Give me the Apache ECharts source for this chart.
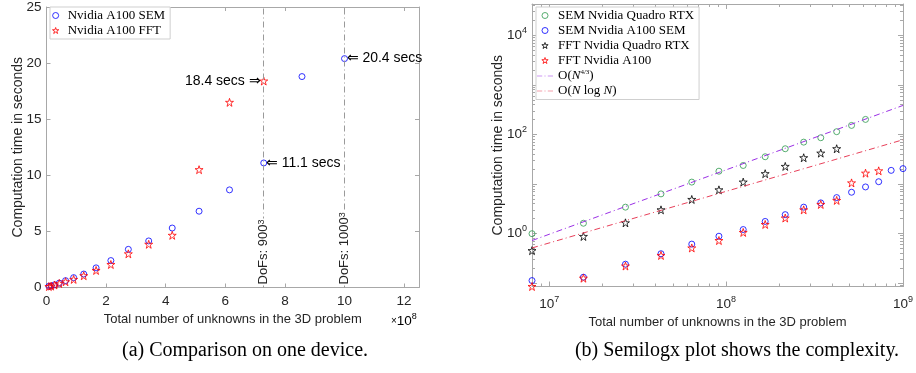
<!DOCTYPE html>
<html>
<head>
<meta charset="utf-8">
<script src="https://cdn.jsdelivr.net/npm/echarts@6/dist/echarts.min.js"></script>
<style>
  html, body { margin: 0; padding: 0; background: #fff; }
  #main { width: 916px; height: 373px; }
</style>
</head>
<body>
<div id="main"></div>
<script>
// total unknowns N = n^3, n = 200, 250, ..., 1000
var unknowns = [8e6, 1.5625e7, 2.7e7, 4.2875e7, 6.4e7, 9.1125e7, 1.25e8, 1.66375e8, 2.16e8,
  2.74625e8, 3.43e8, 4.21875e8, 5.12e8, 6.14125e8, 7.29e8, 8.57375e8, 1e9];
// computation time (s)
var semA100 = [0.112, 0.131, 0.24, 0.39, 0.61, 0.88, 1.2, 1.75, 2.4, 3.4, 4.15, 5.3, 6.8, 8.7, 11.1, 18.8, 20.4];
var fftA100 = [0.085, 0.125, 0.22, 0.36, 0.51, 0.72, 1.05, 1.52, 2.05, 3.0, 3.85, 4.65, 10.5, 16.5, 18.4];
var semQuadro = [0.99, 1.61, 3.4, 6.3, 10.9, 18.1, 23.6, 35.4, 51.4, 69.9, 85.7, 113.5, 152, 201];
var fftQuadro = [0.45, 0.87, 1.64, 3.0, 4.86, 7.6, 10.9, 16.1, 22.6, 33.8, 41.9, 51.4];
// reference slopes, end points (b)
var fitN = [8e6, 1e9];
var fitN43 = [0.72, 385];
var fitNlogN = [0.51, 78];

// ticks
var leftXTicks = [0, 2, 4, 6, 8, 10, 12];
var leftYTicks = [0, 5, 10, 15, 20, 25];
var logXMajor = [1e7, 1e8, 1e9];
var logXMinor = [9e6, 2e7, 3e7, 4e7, 5e7, 6e7, 7e7, 8e7, 9e7,
  2e8, 3e8, 4e8, 5e8, 6e8, 7e8, 8e8, 9e8];
var logYMajor = [0.1, 1, 10, 100, 1000, 10000];
var logYLabels = [1, 100, 10000];
var logYMinor = [0.09, 0.2, 0.3, 0.4, 0.5, 0.6, 0.7, 0.8, 0.9, 2, 3, 4, 5, 6, 7, 8, 9,
  20, 30, 40, 50, 60, 70, 80, 90, 200, 300, 400, 500, 600, 700, 800, 900,
  2000, 3000, 4000, 5000, 6000, 7000, 8000, 9000, 20000, 30000, 40000];

var sans = 'Liberation Sans, Arial, Helvetica, sans-serif';
var serif = 'Liberation Serif, Times New Roman, serif';
var txt = '#262626';
var boxGray = '#a8a8a8';
var star = 'path://M50,0 L61.8,35.4 L100,35.4 L69.1,57.3 L80.9,95.1 L50,72.4 L19.1,95.1 L30.9,57.3 L0,35.4 L38.2,35.4 Z';
var dashDotIcon = 'path://M0,0h7v1h-7z M10,0h1.5v1h-1.5z M14.5,0h7v1h-7z';

var blue = '#0000ff', red = '#ff0000', green = '#2f9a4f', black = '#000000';
var purple = '#9b30e6', pink = '#e8405a';

var sup = {
  b: { fontFamily: sans, fontSize: 13.5, color: txt, lineHeight: 18 },
  e: { fontFamily: sans, fontSize: 9, color: txt, lineHeight: 8, verticalAlign: 'top' },
  x: { fontFamily: sans, fontSize: 10, color: txt, lineHeight: 18 }
};

function pairs(xs, ys, scale) {
  return ys.map(function (v, i) { return [xs[i] / scale, v]; });
}
function pow10(v) {
  return '{b|10}{e|' + Math.round(Math.log10(v)) + '}';
}
function hollow(color) {
  return { color: 'rgba(0,0,0,0)', borderColor: color, borderWidth: 1 };
}
function legendMark(name, icon, color) {
  return { name: name, icon: icon, itemStyle: hollow(color) };
}
function legendLine(name, color) {
  return { name: name, icon: dashDotIcon, itemStyle: { color: color, borderWidth: 0 } };
}

// axis with only a frame line and inward ticks
function frameAxis(grid, type, pos, min, max, ticks, len, showLine) {
  return {
    gridIndex: grid, type: type, position: pos, min: min, max: max,
    axisLine: { show: showLine, onZero: false, lineStyle: { color: boxGray } },
    axisTick: { inside: true, length: len, customValues: ticks, lineStyle: { color: boxGray } },
    axisLabel: { show: false },
    splitLine: { show: false }
  };
}
function addName(axis, name, gap, size, fixed) {
  axis.name = name;
  axis.nameLocation = 'middle';
  axis.nameGap = gap;
  axis.nameTextStyle = { fontFamily: sans, fontSize: size, color: txt };
  if (fixed) axis.nameMoveOverlap = false;
  return axis;
}

var mainX0 = frameAxis(0, 'value', 'bottom', 0, 12.5, leftXTicks, 4, true);
mainX0.axisLabel = { customValues: leftXTicks, margin: 7, fontFamily: sans, fontSize: 13.5, color: txt };
addName(mainX0, 'Total number of unknowns in the 3D problem', 24, 13);

var mainY0 = frameAxis(0, 'value', 'left', 0, 25, leftYTicks, 4, true);
mainY0.axisLabel = { customValues: leftYTicks, margin: 5, fontFamily: sans, fontSize: 13.5, color: txt };
addName(mainY0, 'Computation time in seconds', 21, 14, true);

var mainX1 = frameAxis(1, 'log', 'bottom', 8e6, 1e9, logXMajor, 5, true);
mainX1.axisLabel = { customValues: logXMajor, formatter: pow10, rich: sup, margin: 9 };
addName(mainX1, 'Total number of unknowns in the 3D problem', 27, 13);

var mainY1 = frameAxis(1, 'log', 'left', 0.085, 43000, logYMajor, 5, true);
mainY1.axisLabel = { customValues: logYLabels, formatter: pow10, rich: sup, margin: 5 };
addName(mainY1, 'Computation time in seconds', 27, 14, true);

var dashDot = [6, 3, 1, 3];
var annot = { fontFamily: sans, fontSize: 14, color: '#000' };

var option = {
  animation: false,
  backgroundColor: '#fff',
  grid: [
    { left: 46.5, top: 4, width: 372.5, height: 283.5 },
    { left: 532, top: 4, width: 373.7, height: 282.5 }
  ],
  xAxis: [
    mainX0,
    frameAxis(0, 'value', 'top', 0, 12.5, leftXTicks, 4, true),
    mainX1,
    frameAxis(1, 'log', 'bottom', 8e6, 1e9, logXMinor, 3, false),
    frameAxis(1, 'log', 'top', 8e6, 1e9, logXMajor, 5, true),
    frameAxis(1, 'log', 'top', 8e6, 1e9, logXMinor, 3, false)
  ],
  yAxis: [
    mainY0,
    frameAxis(0, 'value', 'right', 0, 25, leftYTicks, 4, true),
    mainY1,
    frameAxis(1, 'log', 'left', 0.085, 43000, logYMinor, 3, false),
    frameAxis(1, 'log', 'right', 0.085, 43000, logYMajor, 5, true),
    frameAxis(1, 'log', 'right', 0.085, 43000, logYMinor, 3, false)
  ],
  legend: [
    {
      data: [
        legendMark('Nvidia A100 SEM', 'circle', blue),
        legendMark('Nvidia A100 FFT', star, red)
      ],
      orient: 'vertical', left: 50, top: 7,
      itemWidth: 14, itemHeight: 6, itemGap: 2,
      padding: [2, 5, 2, 2],
      borderColor: '#cfcfcf', borderWidth: 1, backgroundColor: '#fff',
      textStyle: { fontFamily: serif, fontSize: 13, color: '#000' }
    },
    {
      data: [
        legendMark('SEM Nvidia Quadro RTX', 'circle', green),
        legendMark('SEM Nvidia A100 SEM', 'circle', blue),
        legendMark('FFT Nvidia Quadro RTX', star, black),
        legendMark('FFT Nvidia A100', star, red),
        legendLine('O(N^4/3)', purple),
        legendLine('O(N log N)', pink)
      ],
      orient: 'vertical', left: 536, top: 7,
      itemWidth: 16, itemHeight: 6, itemGap: 2,
      padding: [2, 5, 2, 1],
      borderColor: '#cfcfcf', borderWidth: 1, backgroundColor: '#fff',
      formatter: function (name) {
        if (name === 'O(N^4/3)') return '{t|O(}{i|N}{f|4/3}{t|)}';
        if (name === 'O(N log N)') return '{t|O(}{i|N}{t| log }{i|N}{t|)}';
        return name;
      },
      textStyle: {
        fontFamily: serif, fontSize: 13, color: '#000',
        rich: {
          t: { fontFamily: serif, fontSize: 13, color: '#000', lineHeight: 14 },
          i: { fontFamily: serif, fontSize: 13, fontStyle: 'italic', color: '#000', lineHeight: 14 },
          f: { fontFamily: serif, fontSize: 7, color: '#000', lineHeight: 8, verticalAlign: 'top' }
        }
      }
    }
  ],
  graphic: [
    {
      type: 'text', left: 391, top: 312,
      style: { text: '{x|\u00d7}{b|10}{e|8}', rich: sup }
    },
    {
      type: 'text', x: 245, y: 341,
      style: { text: '(a) Comparison on one device.', textAlign: 'center',
        font: '20px ' + serif, fill: '#000' }
    },
    {
      type: 'text', x: 737, y: 341,
      style: { text: '(b) Semilogx plot shows the complexity.', textAlign: 'center',
        font: '20px ' + serif, fill: '#000' }
    }
  ],
  series: [
    {
      name: 'Nvidia A100 SEM', type: 'scatter', xAxisIndex: 0, yAxisIndex: 0,
      data: pairs(unknowns, semA100, 1e8),
      symbol: 'circle', symbolSize: 6, clip: false,
      itemStyle: hollow(blue),
      markLine: {
        silent: true, symbol: ['none', 'none'],
        lineStyle: { color: '#9a9a9a', width: 1, type: dashDot },
        label: {
          position: 'insideStart', distance: 2, backgroundColor: '#fff', padding: [1, 1],
          rich: {
            a: { fontFamily: sans, fontSize: 13, color: txt },
            s: { fontFamily: sans, fontSize: 9, color: txt, lineHeight: 8, verticalAlign: 'top' }
          }
        },
        data: [
          { xAxis: unknowns[14] / 1e8, label: { formatter: '{a|DoFs: 900}{s|3}' } },
          { xAxis: unknowns[16] / 1e8, label: { formatter: '{a|DoFs: 1000}{s|3}' } }
        ]
      },
      markPoint: {
        silent: true, symbol: 'circle', symbolSize: 2,
        itemStyle: { color: 'rgba(0,0,0,0)' },
        label: Object.assign({ position: 'right', distance: 1 }, annot),
        data: [
          { coord: [unknowns[16] / 1e8, semA100[16]], label: { formatter: '\u21d0 20.4 secs' } },
          { coord: [unknowns[14] / 1e8, semA100[14]], label: { formatter: '\u21d0 11.1 secs' } }
        ]
      }
    },
    {
      name: 'Nvidia A100 FFT', type: 'scatter', xAxisIndex: 0, yAxisIndex: 0,
      data: pairs(unknowns, fftA100, 1e8),
      symbol: star, symbolSize: 8, clip: false,
      itemStyle: hollow(red),
      markPoint: {
        silent: true, symbol: 'circle', symbolSize: 2,
        itemStyle: { color: 'rgba(0,0,0,0)' },
        label: Object.assign({ position: 'left', distance: 2 }, annot),
        data: [
          { coord: [unknowns[14] / 1e8, fftA100[14]], label: { formatter: '18.4 secs \u21d2' } }
        ]
      }
    },
    {
      name: 'O(N^4/3)', type: 'line', xAxisIndex: 2, yAxisIndex: 2,
      data: pairs(fitN, fitN43, 1), symbol: 'none',
      lineStyle: { color: purple, width: 1, type: dashDot },
      itemStyle: { color: purple }
    },
    {
      name: 'O(N log N)', type: 'line', xAxisIndex: 2, yAxisIndex: 2,
      data: pairs(fitN, fitNlogN, 1), symbol: 'none',
      lineStyle: { color: pink, width: 1, type: dashDot },
      itemStyle: { color: pink }
    },
    {
      name: 'SEM Nvidia Quadro RTX', type: 'scatter', xAxisIndex: 2, yAxisIndex: 2,
      data: pairs(unknowns, semQuadro, 1),
      symbol: 'circle', symbolSize: 6, clip: false,
      itemStyle: hollow(green)
    },
    {
      name: 'SEM Nvidia A100 SEM', type: 'scatter', xAxisIndex: 2, yAxisIndex: 2,
      data: pairs(unknowns, semA100, 1),
      symbol: 'circle', symbolSize: 6, clip: false,
      itemStyle: hollow(blue)
    },
    {
      name: 'FFT Nvidia Quadro RTX', type: 'scatter', xAxisIndex: 2, yAxisIndex: 2,
      data: pairs(unknowns, fftQuadro, 1),
      symbol: star, symbolSize: 8, clip: false,
      itemStyle: hollow(black)
    },
    {
      name: 'FFT Nvidia A100', type: 'scatter', xAxisIndex: 2, yAxisIndex: 2,
      data: pairs(unknowns, fftA100, 1),
      symbol: star, symbolSize: 8, clip: false,
      itemStyle: hollow(red)
    }
  ]
};

var chart = echarts.init(document.getElementById('main'), null, { renderer: 'canvas' });
chart.setOption(option);
</script>
</body>
</html>
